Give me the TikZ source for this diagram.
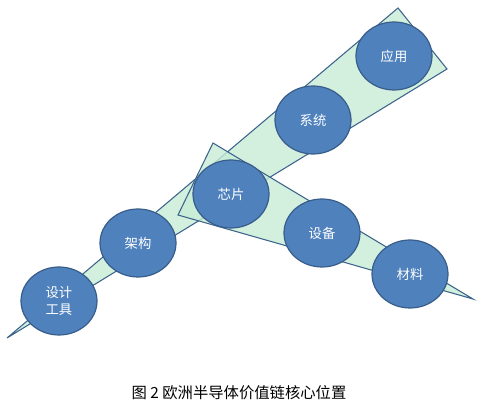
\documentclass[tikz,border=0pt]{standalone}
\usepackage{fontspec}
\setmainfont{Liberation Serif}
\newfontfamily\cjk{Noto Sans CJK SC}
\usetikzlibrary{shapes.geometric}
\definecolor{ballfill}{RGB}{79,129,189}
\definecolor{balledge}{RGB}{56,93,138}
\definecolor{wedgefill}{RGB}{200,236,214}
\definecolor{wedgeedge}{RGB}{60,100,140}
\tikzset{
  ball/.style={ellipse, fill=ballfill, draw=balledge, line width=0.9pt,
    minimum width=57pt, minimum height=51pt, inner sep=0pt,
    text=white, font=\cjk\fontsize{10}{13}\selectfont, align=center},
  wedge/.style={fill=wedgefill, fill opacity=0.8, draw=wedgeedge, line width=0.8pt, line join=miter},
  caption/.style={font=\cjk\fontsize{11.5}{13}\selectfont, text=black}
}
\begin{document}
\begin{tikzpicture}[x=0.75pt, y=-0.75pt]
\useasboundingbox (0,0) rectangle (479,416);
% big wedge
\draw[wedge] (7,338) -- (398,8) -- (447,69) -- cycle;
% small wedge
\draw[wedge] (213,143) -- (473,299) -- (178,215) -- cycle;
% balls
\node[ball] (tools) at (59,301) {设计\\工具};
\node[ball] (arch) at (138,243) {架构};
\node[ball] (chip) at (231,194) {芯片};
\node[ball] (sys) at (313,120) {系统};
\node[ball] (app) at (394,56) {应用};
\node[ball] (equip) at (322,233) {设备};
\node[ball] (mat) at (410,274) {材料};
% caption
\node[caption] (cap) at (239,393) {图 2 欧洲半导体价值链核心位置};
\end{tikzpicture}
\end{document}
